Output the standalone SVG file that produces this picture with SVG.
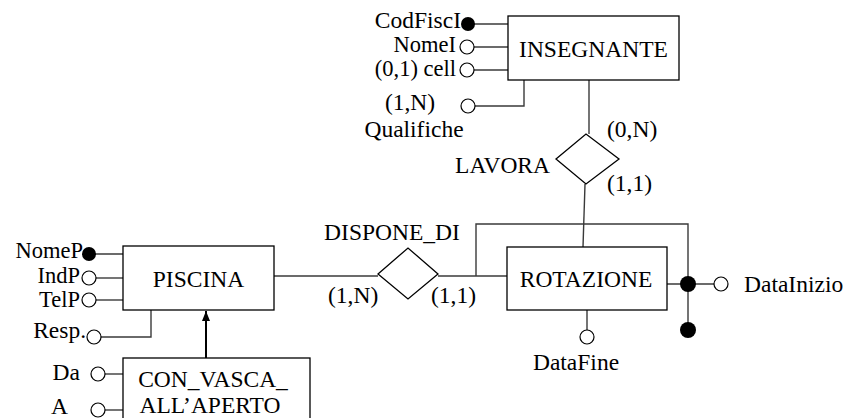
<svg xmlns="http://www.w3.org/2000/svg" width="848" height="418" viewBox="0 0 848 418">
<style>
text{font-family:"Liberation Serif","Times New Roman",serif;font-size:23.5px;fill:#000}
.s{font-size:22.5px}
.e{fill:#fff;stroke:#000;stroke-width:1.3}
.r{fill:#fff;stroke:#000;stroke-width:1.3}
.c{fill:none;stroke:#3a3a3a;stroke-width:1.4}
.o{fill:#fff;stroke:#000;stroke-width:1.2}
.f{fill:#000}
.m{text-anchor:middle}
.en{text-anchor:end}
</style>
<defs>
<marker id="ah" markerWidth="12" markerHeight="10" refX="10" refY="5" orient="auto" markerUnits="userSpaceOnUse" viewBox="0 0 10 10">
<path d="M0,1 L10,5 L0,9 Z" fill="#000"/>
</marker>
</defs>
<g id="connectors">
<line class="c" x1="468" y1="24" x2="508" y2="24"/>
<line class="c" x1="474" y1="47" x2="508" y2="47"/>
<line class="c" x1="474" y1="70" x2="508" y2="70"/>
<polyline class="c" points="475,106 524,106 524,80"/>
<line class="c" x1="589" y1="80" x2="589" y2="134"/>
<line class="c" x1="585" y1="184" x2="583" y2="247"/>
<line class="c" x1="274" y1="276" x2="378" y2="276"/>
<line class="c" x1="438" y1="276" x2="507" y2="276"/>
<polyline class="c" points="476,276 476,224 688,224 688,330"/>
<line class="c" x1="667" y1="284" x2="714" y2="284"/>
<line class="c" x1="587" y1="310" x2="587" y2="330"/>
<line class="c" x1="89" y1="254" x2="123" y2="254"/>
<line class="c" x1="96" y1="278" x2="123" y2="278"/>
<line class="c" x1="96" y1="300" x2="123" y2="300"/>
<polyline class="c" points="101,337 151,337 151,310"/>
<line class="c" x1="105" y1="374" x2="123" y2="374"/>
<line class="c" x1="105" y1="410" x2="123" y2="410"/>
<line x1="206" y1="358" x2="206" y2="311" stroke="#000" stroke-width="2" marker-end="url(#ah)"/>
</g>
<g id="INSEGNANTE">
<rect class="e" x="508" y="16" width="171" height="64"/>
<text class="m" x="593.5" y="57">INSEGNANTE</text>
</g>
<g id="attr-CodFiscI">
<circle class="f" cx="468" cy="24" r="7"/>
<text class="en" x="461" y="28">CodFiscI</text>
</g>
<g id="attr-NomeI">
<circle class="o" cx="467" cy="47" r="7"/>
<text class="en s" x="456" y="52">NomeI</text>
</g>
<g id="attr-cell">
<circle class="o" cx="467" cy="70" r="7"/>
<text class="en s" x="456" y="76">(0,1) cell</text>
</g>
<g id="attr-Qualifiche">
<circle class="o" cx="468" cy="106" r="7"/>
<text class="m" x="410" y="110">(1,N)</text>
<text class="m" x="414" y="137">Qualifiche</text>
</g>
<g id="LAVORA">
<polygon class="r" points="556,159 586,134 619,159 586,184"/>
<text class="en" x="550" y="173">LAVORA</text>
<text x="607" y="137">(0,N)</text>
<text x="607" y="191">(1,1)</text>
</g>
<g id="ROTAZIONE">
<rect class="e" x="507" y="247" width="160" height="63"/>
<text class="m" x="586" y="287">ROTAZIONE</text>
</g>
<g id="attr-DataInizio">
<circle class="f" cx="688" cy="284" r="8"/>
<circle class="f" cx="688" cy="330" r="8"/>
<circle class="o" cx="721" cy="284" r="7"/>
<text x="744" y="292">DataInizio</text>
</g>
<g id="attr-DataFine">
<circle class="o" cx="587" cy="337" r="7"/>
<text class="m" x="576" y="370">DataFine</text>
</g>
<g id="DISPONE_DI">
<polygon class="r" points="378,274 408,248 438,274 408,299"/>
<text class="m" x="392" y="240">DISPONE_DI</text>
<text x="328" y="303">(1,N)</text>
<text x="431" y="303">(1,1)</text>
</g>
<g id="PISCINA">
<rect class="e" x="123" y="246" width="151" height="64"/>
<text class="m" x="198.5" y="287">PISCINA</text>
</g>
<g id="attr-NomeP">
<circle class="f" cx="89" cy="254" r="7"/>
<text class="en s" x="83" y="258">NomeP</text>
</g>
<g id="attr-IndP">
<circle class="o" cx="89" cy="278" r="7"/>
<text class="en s" x="80" y="283">IndP</text>
</g>
<g id="attr-TelP">
<circle class="o" cx="89" cy="300" r="7"/>
<text class="en s" x="80" y="307">TelP</text>
</g>
<g id="attr-Resp">
<circle class="o" cx="94" cy="337" r="7"/>
<text class="en" x="86" y="338">Resp.</text>
</g>
<g id="CON_VASCA_ALL_APERTO">
<rect class="e" x="123" y="358" width="187" height="80"/>
<text class="m" x="213" y="387">CON_VASCA_</text>
<text class="m" x="210" y="413">ALL’APERTO</text>
</g>
<g id="attr-Da">
<circle class="o" cx="98" cy="374" r="7"/>
<text class="en" x="80" y="380">Da</text>
</g>
<g id="attr-A">
<circle class="o" cx="98" cy="410" r="7"/>
<text class="en" x="68" y="414">A</text>
</g>
</svg>
